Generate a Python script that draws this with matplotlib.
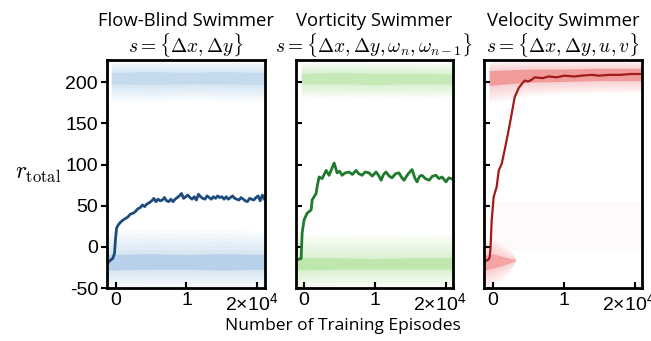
import matplotlib.pyplot as plt
import matplotlib.transforms as mtransforms
import numpy as np

plt.rcParams['font.family'] = ['Liberation Sans', 'DejaVu Sans']
plt.rcParams['mathtext.fontset'] = 'custom'
plt.rcParams['mathtext.rm'] = 'Liberation Sans'
plt.rcParams['axes.unicode_minus'] = False

# mean reward curves (x in episodes)
blue_x = [-1200, -700, -400, -150, 0, 150, 400, 700, 1100, 1500, 1800, 2100, 2500,
          2800, 3100, 3500, 3800, 4100, 4400, 4800, 5100, 5400, 5700,
          6000, 6300, 6600, 6900, 7200, 7500, 7800, 8100, 8400, 8700, 9000, 9300,
          9600, 9900, 10200, 10500, 10800, 11100, 11400, 11700, 12000, 12300,
          12600, 12900, 13200, 13500, 13800, 14100, 14400, 14700, 15000, 15300,
          15600, 15900, 16200, 16500, 16800, 17100, 17400, 17700, 18000, 18300,
          18600, 18900, 19200, 19500, 19800, 20100, 20400, 20700, 21000]
blue_y = [-20, -16, -14, -8, 10, 23, 27, 30, 33, 35, 37, 40, 41,
          43, 46, 48, 51, 49, 52, 54, 56, 59, 55,
          58, 56, 57, 60, 56, 55, 58, 55, 58, 60, 62, 65,
          59, 61, 63, 60, 58, 61, 57, 64, 61, 59,
          58, 62, 60, 58, 61, 59, 62, 60, 61, 58,
          61, 58, 60, 62, 59, 58, 57, 60, 58, 56,
          55, 59, 58, 57, 60, 62, 56, 63, 58]

green_x = [-1200, -420, -280, 0, 420, 990, 1130, 1690, 1830, 2110, 2540, 3100,
           3520, 3900, 4230, 4650, 5000, 5350, 5800, 6340, 6800, 7320, 7700, 8170,
           8600, 9150, 9600, 10140, 10500, 10850, 11200, 11550, 12000, 12390,
           12900, 13380, 13700, 14080, 14600, 15210, 15600, 15920, 16300, 16620,
           17100, 17610, 18100, 18590, 19000, 19440, 20000, 20400, 21000]
green_y = [-16, -14, 17, 33, 41, 45, 57, 65, 73, 85, 83, 93,
           87, 95, 102, 90, 92, 87, 90, 91, 88, 93, 89, 87,
           91, 90, 86, 91, 87, 81, 88, 91, 86, 84,
           89, 90, 85, 81, 88, 94, 84, 79, 86, 87,
           83, 81, 86, 87, 83, 85, 79, 84, 82]

red_x = [-1200, -560, -420, -300, -140, 140, 560, 850, 1270, 1690, 2250, 2680,
         3100, 3660, 4100, 4510, 5000, 5490, 5920, 7000, 7890, 9000, 10140,
         11500, 12540, 14000, 14930, 16500, 18000, 19500, 21000]
red_y = [-18, -15, -12, 0, 33, 61, 73, 93, 101, 118, 142, 162,
         182, 193, 198, 202, 201, 203, 206, 205, 207, 206, 208,
         207, 208, 209, 208, 209, 209, 210, 210]

# scatter clouds of single episodes: x, outer low, core low, core high, outer high
blue_top_x = [-600, 5000, 10000, 15000, 21000]
blue_top = [[178, 177, 179, 178, 177], [198, 197, 198, 198, 197],
            [212, 213, 212, 213, 212], [227, 227, 227, 227, 227]]
blue_bot_x = [-1200, 5000, 10000, 15000, 21000]
blue_bot = [[-50, -50, -50, -50, -50], [-28, -27, -27, -28, -27],
            [-9, -8, -9, -8, -9], [18, 22, 20, 22, 18]]

green_top_x = [-400, 5000, 10000, 15000, 21000]
green_top = [[182, 181, 182, 181, 182], [198, 198, 197, 198, 198],
             [211, 212, 211, 211, 210], [225, 226, 225, 225, 224]]
green_bot_x = [-1200, 5000, 10000, 15000, 21000]
green_bot = [[-50, -50, -50, -50, -50], [-28, -27, -27, -27, -27],
             [-13, -13, -14, -13, -13], [15, 16, 15, 16, 15]]

red_top_x = [-500, 2000, 5000, 10000, 15000, 21000]
red_top = [[176, 178, 184, 186, 187, 188], [196, 198, 200, 201, 202, 202],
           [214, 215, 216, 216, 217, 217], [226, 227, 227, 227, 227, 227]]
red_bot_x = [-1200, 0, 1200, 2500, 3200]
red_bot = [[-50, -48, -40, -30, -18], [-28, -26, -23, -19, -17],
           [-10, -8, -11, -14, -15], [8, 10, 4, -4, -12]]
red_sparse_x = [0, 21000]
red_sparse = [[-5, -5], [55, 55]]

panels = [
    ("Flow-Blind Swimmer", r"$s = \{\Delta x, \Delta y\}$",
     blue_x, blue_y, "#1d4c7c", "#4a8fcc", [(blue_top_x, blue_top, 0.22), (blue_bot_x, blue_bot, 0.4)]),
    ("Vorticity Swimmer", r"$s = \{\Delta x, \Delta y, \omega_n, \omega_{n-1}\}$",
     green_x, green_y, "#1f7a2b", "#5cc434", [(green_top_x, green_top, 0.3), (green_bot_x, green_bot, 0.4)]),
    ("Velocity Swimmer", r"$s = \{\Delta x, \Delta y, u, v\}$",
     red_x, red_y, "#a11b1b", "#e32a2a", [(red_top_x, red_top, 0.55), (red_bot_x, red_bot, 0.45)]),
]

fig, axes = plt.subplots(1, 3, figsize=(6.51, 3.41), dpi=100, sharey=True)
fig.subplots_adjust(left=0.1644, right=0.9862, bottom=0.155, top=0.824, wspace=0.195)

n_layers = 6
for i, (ax, (title, sub, lx, ly, lc, cc, clouds)) in enumerate(zip(axes, panels)):
    for cx, band, core_alpha in clouds:
        o_lo, c_lo, c_hi, o_hi = [np.array(b, dtype=float) for b in band]
        # soft edges: stacked thin layers from the outer edge towards the core
        for k in range(n_layers):
            f = k / n_layers
            ax.fill_between(cx, o_lo + (c_lo - o_lo) * f, o_hi - (o_hi - c_hi) * f,
                            color=cc, alpha=0.035, lw=0)
        ax.fill_between(cx, c_lo, c_hi, color=cc, alpha=core_alpha * 0.6, lw=0)
    if i == 2:
        ax.fill_between(red_sparse_x, red_sparse[0], red_sparse[1], color=cc, alpha=0.018, lw=0)
    ax.plot(lx, ly, color=lc, lw=2.0 if i < 2 else 1.6)

    ax.set_xlim(-1200, 21050)
    ax.set_ylim(-50, 227)
    ax.set_xticks([0, 10000, 20000])
    ax.set_xticklabels(["0", "1", r"2×10$^4$"])
    ax.set_yticks([-50, 0, 50, 100, 150, 200])
    ax.set_yticklabels(["-50", "0", "50", "100", "150", "200"])
    ax.tick_params(axis='x', direction='in', length=4.5, width=1.5, labelsize=14, pad=3)
    ax.tick_params(axis='y', direction='out' if i == 0 else 'in', length=4.5, width=1.5,
                   labelsize=14, pad=2)
    lab = ax.get_xticklabels()[2]
    lab.set_transform(lab.get_transform() + mtransforms.ScaledTranslation(-0.06, 0, fig.dpi_scale_trans))
    for s in ax.spines.values():
        s.set_linewidth(2)

    ax.text(0.5, 1.17, title, transform=ax.transAxes, ha='center', va='center',
            fontsize=13.3, family=['Open Sans', 'DejaVu Sans'])
    ax.text(0.5, 1.066, sub, transform=ax.transAxes, ha='center', va='center',
            fontsize=14, math_fontfamily='cm')

axes[0].set_ylabel(r"$r_{\mathrm{total}}$", rotation=0, fontsize=17, math_fontfamily='cm',
                   labelpad=20, va='center')
fig.text(0.526, 0.045, "Number of Training Episodes", ha='center', va='center',
         fontsize=12.5, family=['Open Sans', 'DejaVu Sans'])

plt.savefig("out.png", dpi=100)
